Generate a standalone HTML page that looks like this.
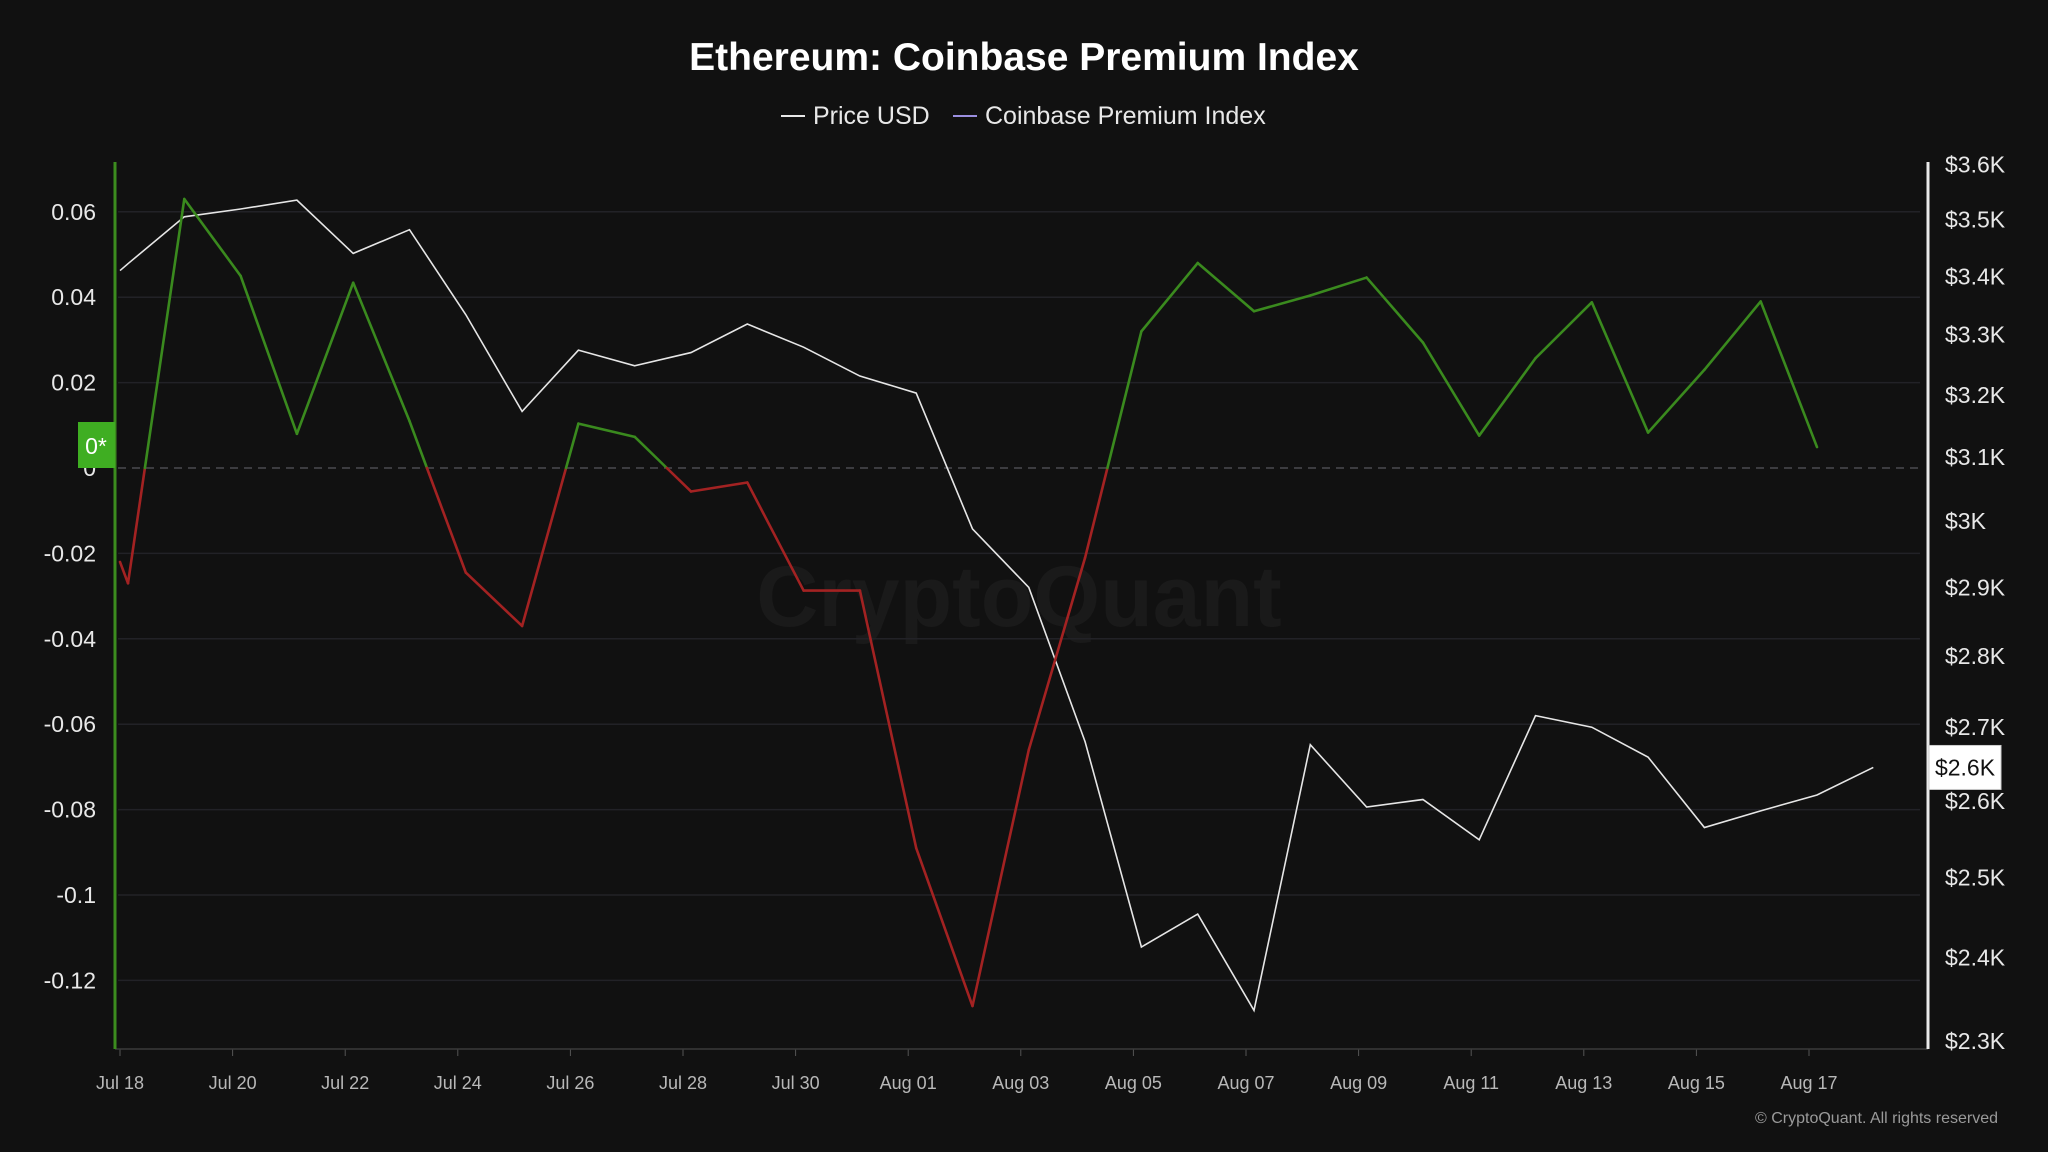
<!DOCTYPE html>
<html><head><meta charset="utf-8"><style>
html,body{margin:0;padding:0;background:#111111;}
body{width:2048px;height:1152px;overflow:hidden;font-family:"Liberation Sans",sans-serif;}
</style></head><body>
<svg id="chart" width="2048" height="1152" xmlns="http://www.w3.org/2000/svg" style="display:block">
<rect width="2048" height="1152" fill="#111111"/>
<text x="1024" y="70" text-anchor="middle" fill="#ffffff" font-size="39" font-weight="bold">Ethereum: Coinbase Premium Index</text>
<g>
<g><line x1="781" y1="116" x2="805" y2="116" stroke="#e8e8e8" stroke-width="2"/><text x="813" y="124" fill="#e8e8e8" font-size="25">Price USD</text></g>
<g><line x1="953" y1="116" x2="977" y2="116" stroke="#9b8fe0" stroke-width="2"/><text x="985" y="124" fill="#e8e8e8" font-size="25">Coinbase Premium Index</text></g>
</g>
<text x="1019" y="626" text-anchor="middle" fill="#1a1a1a" font-size="86" font-weight="bold">CryptoQuant</text>
<g id="grid"></g><g id="marks"></g><g id="axes"></g>
<text x="1998" y="1123" text-anchor="end" fill="#9a9a9a" font-size="16">© CryptoQuant. All rights reserved</text>
</svg>
<script>
const dates = ["Jul 18","Jul 20","Jul 22","Jul 24","Jul 26","Jul 28","Jul 30","Aug 01","Aug 03","Aug 05","Aug 07","Aug 09","Aug 11","Aug 13","Aug 15","Aug 17"];
const premium = [-0.027,0.063,0.045,0.008,0.0434,0.011,-0.0245,-0.037,0.0104,0.0073,-0.0055,-0.0034,-0.0287,-0.0287,-0.089,-0.126,-0.066,-0.021,0.032,0.048,0.0367,0.0404,0.0446,0.0294,0.0076,0.0257,0.0388,0.0083,0.023,0.039,0.0049];
const price = [3422,3505,3519,3535,3440,3482,3334,3173,3274,3248,3270,3318,3279,3231,3203,2988,2900,2680,2413,2454,2336,2676,2592,2602,2549,2716,2700,2659,2565,2587,2608,2645];
const startPremium = -0.022;
const startPrice = 3410;
const leftTicks = [0.06,0.04,0.02,0,-0.02,-0.04,-0.06,-0.08,-0.1,-0.12];
const leftLabels = ["0.06","0.04","0.02","0","-0.02","-0.04","-0.06","-0.08","-0.1","-0.12"];
const rightTicks = [3600,3500,3400,3300,3200,3100,3000,2900,2800,2700,2600,2500,2400,2300];
const rightLabels = ["$3.6K","$3.5K","$3.4K","$3.3K","$3.2K","$3.1K","$3K","$2.9K","$2.8K","$2.7K","$2.6K","$2.5K","$2.4K","$2.3K"];

const NS="http://www.w3.org/2000/svg";
const X0=128, DX=56.3, LBLX0=120;
const xDay = d => X0 + DX*d;
const yL = v => 468 - v/0.02*85.4;
const yR = p => 164.5 + 1956*Math.log(3600/p);
function mk(tag, attrs, parent){const e=document.createElementNS(NS,tag);for(const k in attrs)e.setAttribute(k,attrs[k]);parent.appendChild(e);return e;}
const grid=document.getElementById('grid'), marks=document.getElementById('marks'), axes=document.getElementById('axes');

leftTicks.forEach((v,i)=>{
  const y=yL(v);
  const gl=mk('line',{x1:118,x2:1920,y1:y,y2:y,stroke:v===0?'#4a4a50':'#222227','stroke-width':1.5,'stroke-dasharray':v===0?'8 6':''},grid);
  
  
  const t=mk('text',{x:96,y:y+8,'text-anchor':'end',fill:'#e8e8e8','font-size':23},axes);
  t.textContent=leftLabels[i];
  
  
});
rightTicks.forEach((p,i)=>{
  const t=mk('text',{x:1945,y:yR(p)+8,fill:'#e8e8e8','font-size':23},axes);
  t.textContent=rightLabels[i];
  
  
});
dates.forEach((d,i)=>{
  const t=mk('text',{x:LBLX0+i*2*DX,y:1089,'text-anchor':'middle',fill:'#b8b8b8','font-size':18},axes);
  t.textContent=d;
  
  
  const tk=mk('line',{x1:LBLX0+i*2*DX,x2:LBLX0+i*2*DX,y1:1049,y2:1056,stroke:'#555'},axes);
  
  
});
const xa=mk('line',{x1:115,x2:1928,y1:1049,y2:1049,stroke:'#3a3a3a','stroke-width':1.5},axes);


const la=mk('line',{x1:115,x2:115,y1:162,y2:1049,stroke:'#3c8c1e','stroke-width':3},axes);


const ra=mk('line',{x1:1928,x2:1928,y1:162,y2:1049,stroke:'#e8e8e8','stroke-width':3},axes);



// price line
const pl=mk('polyline',{points:(LBLX0+','+yR(startPrice)+' ')+price.map((p,i)=>xDay(i)+','+yR(p)).join(' '),fill:'none',stroke:'#e6e6e6','stroke-width':1.6},marks);



// premium line split at zero
const px=[LBLX0].concat(premium.map((v,i)=>xDay(i)));
const pv=[startPremium].concat(premium);
for(let i=0;i<pv.length-1;i++){
  const a=pv[i],b=pv[i+1],x1=px[i],x2=px[i+1];
  const segs=[];
  if((a>=0)===(b>=0)) segs.push([x1,a,x2,b]);
  else{const t=a/(a-b);const xm=x1+(x2-x1)*t;segs.push([x1,a,xm,0]);segs.push([xm,0,x2,b]);}
  segs.forEach(s=>{
    const pos=(s[1]+s[3])/2>=0;
    const seg=mk('line',{x1:s[0],y1:yL(s[1]),x2:s[2],y2:yL(s[3]),stroke:pos?'#3a8a1e':'#a32222','stroke-width':2.6,'stroke-linecap':'round'},marks);
    
    
  });
}

const zb=mk('rect',{x:78,y:422,width:37,height:46,fill:'#3fae22'},axes);


const zt=mk('text',{x:96,y:454,'text-anchor':'middle',fill:'#ffffff','font-size':23},axes);
zt.textContent='0*';



const lp=price[price.length-1], ly=yR(lp);
const pb=mk('rect',{x:1929,y:ly-22,width:72,height:44,fill:'#ffffff',stroke:'#cccccc'},axes);


const pt=mk('text',{x:1965,y:ly+8,'text-anchor':'middle',fill:'#111','font-size':23},axes);
pt.textContent='$'+(Math.round(lp/100)/10)+'K';


</script>
</body></html>
